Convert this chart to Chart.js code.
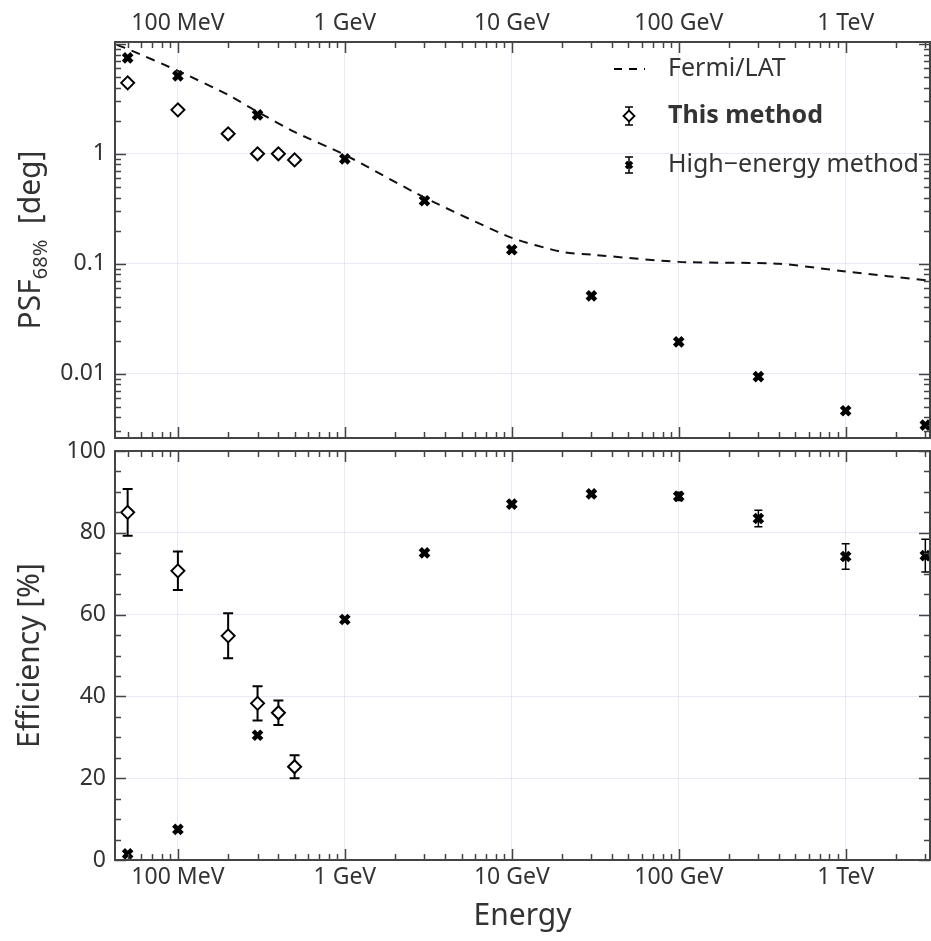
<!DOCTYPE html>
<html>
<head>
<meta charset="utf-8">
<script src="https://cdn.jsdelivr.net/npm/chart.js@4.4.1/dist/chart.umd.min.js"></script>
<style>
  html, body { margin: 0; padding: 0; background: #fff; }
  #wrap { position: relative; width: 931px; height: 941px; }
  canvas { position: absolute; left: 0; }
  #psfChart { top: 0; }
  #effChart { top: 440px; }
</style>
</head>
<body>
<div id="wrap">
  <canvas id="psfChart" width="931" height="440"></canvas>
  <canvas id="effChart" width="931" height="501"></canvas>
</div>
<script>
// energies in GeV
const xTickValues = [0.1, 1, 10, 100, 1000];
const xTickLabels = ['100 MeV', '1 GeV', '10 GeV', '100 GeV', '1 TeV'];
const psfTickValues = [0.01, 0.1, 1];
const psfTickLabels = ['0.01', '0.1', '1'];
const effTickValues = [0, 20, 40, 60, 80, 100];

// "This method"
const thisEnergy = [0.05, 0.1, 0.2, 0.3, 0.4, 0.5];
const thisPsf = [4.42, 2.51, 1.52, 1.0, 1.0, 0.88];
const thisEff = [85, 70.7, 54.8, 38.3, 36, 22.8];
const thisEffErr = [5.7, 4.7, 5.5, 4.2, 3, 2.8];

// "High-energy method"
const highEnergy = [0.05, 0.1, 0.3, 1, 3, 10, 30, 100, 300, 1000, 3000];
const highPsf = [7.46, 5.12, 2.26, 0.90, 0.374, 0.134, 0.051, 0.0195, 0.0094, 0.0046, 0.0034];
const highEff = [1.5, 7.5, 30.5, 58.8, 75.1, 87, 89.5, 88.9, 83.5, 74.2, 74.4];
const highEffErr = [0, 0, 0, 0, 0, 0, 0.5, 1, 2, 3.1, 4];

// Fermi/LAT reference curve
const fermiEnergy = [0.043, 0.05, 0.1, 0.2, 0.3, 0.5, 1, 3, 10, 20, 30, 100, 400, 1000, 3200];
const fermiPsf = [9.8, 9.0, 5.69, 3.44, 2.41, 1.58, 0.98, 0.40, 0.172, 0.128, 0.121, 0.104, 0.1, 0.085, 0.07];

Chart.defaults.font.family = '"Noto Sans", sans-serif';
Chart.defaults.color = '#333';

const gridColor = 'rgba(200, 175, 235, 0.3)';
const xMin = 0.042, xMax = 3200;

const toPts = (xs, ys) => xs.map((x, i) => ({ x: x, y: ys[i] }));

// fix an axis size and drop the label overflow padding
const fixSize = (key, size) => s => {
  s[key] = size;
  s.paddingTop = 0; s.paddingBottom = 0;
  s.paddingLeft = 0; s.paddingRight = 0;
};

// inward ticks on all four sides + frame
const framePlugin = {
  id: 'frame',
  afterDatasetsDraw(chart) {
    const { ctx, chartArea: a, scales } = chart;
    const xs = scales.x, ys = scales.y;
    ctx.save();
    ctx.strokeStyle = '#444';
    ctx.lineWidth = 1.5;
    ctx.beginPath();
    for (let k = -2; k <= 3; k++) {
      for (let m = 1; m <= 9; m++) {
        const v = m * Math.pow(10, k);
        if (v < xs.min || v > xs.max) continue;
        const px = Math.round(xs.getPixelForValue(v)) + 0.5;
        const len = m === 1 ? 11 : 6;
        ctx.moveTo(px, a.top); ctx.lineTo(px, a.top + len);
        ctx.moveTo(px, a.bottom); ctx.lineTo(px, a.bottom - len);
      }
    }
    const yTicks = [];
    if (ys.type === 'logarithmic') {
      for (let k = -3; k <= 1; k++) {
        for (let m = 1; m <= 9; m++) {
          const v = m * Math.pow(10, k);
          if (v >= ys.min && v <= ys.max) yTicks.push([v, m === 1]);
        }
      }
    } else {
      for (let v = 0; v <= 100; v += 5) yTicks.push([v, v % 20 === 0]);
    }
    yTicks.forEach(([v, major]) => {
      const py = Math.round(ys.getPixelForValue(v)) + 0.5;
      const len = major ? 11 : 6;
      ctx.moveTo(a.left, py); ctx.lineTo(a.left + len, py);
      ctx.moveTo(a.right, py); ctx.lineTo(a.right - len, py);
    });
    ctx.stroke();
    ctx.lineWidth = 2;
    ctx.strokeRect(a.left, a.top, a.right - a.left, a.bottom - a.top);
    ctx.restore();
  }
};

// vertical error bars, drawn under the markers
const errorBarPlugin = {
  id: 'errorBars',
  beforeDatasetsDraw(chart) {
    const { ctx, scales } = chart;
    ctx.save();
    ctx.strokeStyle = '#000';
    chart.data.datasets.forEach(ds => {
      if (!ds.errors) return;
      ctx.lineWidth = ds.errWidth || 2;
      const cap = ds.capSize || 5;
      ds.data.forEach((p, i) => {
        const e = ds.errors[i];
        if (!e) return;
        const px = scales.x.getPixelForValue(p.x);
        const y1 = scales.y.getPixelForValue(p.y + e);
        const y2 = scales.y.getPixelForValue(p.y - e);
        ctx.beginPath();
        ctx.moveTo(px, y1); ctx.lineTo(px, y2);
        ctx.moveTo(px - cap, y1); ctx.lineTo(px + cap, y1);
        ctx.moveTo(px - cap, y2); ctx.lineTo(px + cap, y2);
        ctx.stroke();
      });
    });
    ctx.restore();
  }
};

// legend + subscripted y title for the PSF panel
const psfDecor = {
  id: 'psfDecor',
  afterDraw(chart) {
    const { ctx, chartArea: a } = chart;
    ctx.save();
    // y title
    ctx.translate(31, (a.top + a.bottom) / 2);
    ctx.rotate(-Math.PI / 2);
    ctx.fillStyle = '#333';
    ctx.textBaseline = 'middle';
    const big = '30px "Noto Sans"', small = '20px "Noto Sans"';
    ctx.font = big;
    const w1 = ctx.measureText('PSF').width;
    ctx.font = small;
    const w2 = ctx.measureText('68%').width;
    ctx.font = big;
    const w3 = ctx.measureText('  [deg]').width;
    let x = -(w1 + w2 + w3) / 2;
    ctx.fillText('PSF', x, 0); x += w1;
    ctx.font = small;
    ctx.fillText('68%', x, 10); x += w2;
    ctx.font = big;
    ctx.fillText('  [deg]', x, 0);
    ctx.restore();

    // legend
    ctx.save();
    const sx = 629, tx = 668;
    const rows = [69, 116, 165];
    ctx.strokeStyle = '#000';
    ctx.lineWidth = 1.8;
    ctx.setLineDash([8, 7]);
    ctx.beginPath();
    ctx.moveTo(614, rows[0]); ctx.lineTo(645, rows[0]);
    ctx.stroke();
    ctx.setLineDash([]);
    ctx.lineWidth = 1.5;
    ctx.beginPath();
    ctx.moveTo(sx, rows[1] - 9); ctx.lineTo(sx, rows[1] + 9);
    ctx.moveTo(sx - 4, rows[1] - 9); ctx.lineTo(sx + 4, rows[1] - 9);
    ctx.moveTo(sx - 4, rows[1] + 9); ctx.lineTo(sx + 4, rows[1] + 9);
    ctx.moveTo(sx, rows[2] - 8); ctx.lineTo(sx, rows[2] + 8);
    ctx.moveTo(sx - 4, rows[2] - 8); ctx.lineTo(sx + 4, rows[2] - 8);
    ctx.moveTo(sx - 4, rows[2] + 8); ctx.lineTo(sx + 4, rows[2] + 8);
    ctx.stroke();
    ctx.fillStyle = '#fff';
    ctx.lineWidth = 1.8;
    ctx.beginPath();
    ctx.moveTo(sx, rows[1] - 5.5); ctx.lineTo(sx + 5.5, rows[1]);
    ctx.lineTo(sx, rows[1] + 5.5); ctx.lineTo(sx - 5.5, rows[1]);
    ctx.closePath();
    ctx.fill(); ctx.stroke();
    ctx.lineWidth = 3.5;
    ctx.beginPath();
    ctx.moveTo(sx - 3, rows[2] - 3); ctx.lineTo(sx + 3, rows[2] + 3);
    ctx.moveTo(sx + 3, rows[2] - 3); ctx.lineTo(sx - 3, rows[2] + 3);
    ctx.stroke();
    ctx.fillStyle = '#333';
    ctx.textBaseline = 'middle';
    ctx.font = '25px "Noto Sans"';
    ctx.fillText('Fermi/LAT', tx, rows[0]);
    ctx.font = 'bold 25px "Noto Sans"';
    ctx.fillText('This method', tx, rows[1]);
    ctx.font = '25px "Noto Sans"';
    ctx.fillText('High\u2212energy method', tx, rows[2]);
    ctx.restore();
  }
};

const diamondStyle = {
  pointStyle: 'rectRot',
  pointRadius: 6.5,
  pointHoverRadius: 6.5,
  pointBackgroundColor: '#fff',
  pointBorderColor: '#000',
  pointBorderWidth: 2
};
const crossStyle = {
  pointStyle: 'crossRot',
  pointRadius: 6,
  pointHoverRadius: 6,
  pointBorderColor: '#000',
  pointBorderWidth: 4.5
};

const xAxis = (position, height) => ({
  type: 'logarithmic',
  position: position,
  min: xMin,
  max: xMax,
  afterBuildTicks: s => { s.ticks = xTickValues.map(v => ({ value: v })); },
  afterFit: fixSize('height', height),
  ticks: {
    autoSkip: false,
    maxRotation: 0,
    padding: position === 'top' ? 5 : 4,
    font: { size: 23 },
    color: '#333',
    callback: (v, i) => xTickLabels[i]
  },
  grid: { color: gridColor, drawTicks: false, lineWidth: 1 },
  border: { display: false }
});

// top panel: PSF
new Chart(document.getElementById('psfChart'), {
  type: 'scatter',
  data: {
    datasets: [
      {
        type: 'line',
        label: 'Fermi/LAT',
        data: toPts(fermiEnergy, fermiPsf),
        borderColor: '#111',
        borderWidth: 2,
        borderDash: [9, 7],
        pointRadius: 0,
        fill: false,
        tension: 0.2
      },
      Object.assign({ label: 'This method', data: toPts(thisEnergy, thisPsf) }, diamondStyle),
      Object.assign({ label: 'High-energy method', data: toPts(highEnergy, highPsf) }, crossStyle)
    ]
  },
  options: {
    responsive: false,
    animation: false,
    layout: { autoPadding: false, padding: { top: 0, right: 1, bottom: 2, left: 0 } },
    scales: {
      x: xAxis('top', 42),
      y: {
        type: 'logarithmic',
        min: 0.0026,
        max: 10.4,
        afterBuildTicks: s => { s.ticks = psfTickValues.map(v => ({ value: v })); },
        afterFit: fixSize('width', 115),
        ticks: {
          padding: 9,
          font: { size: 23 },
          color: '#333',
          callback: (v, i) => psfTickLabels[i]
        },
        grid: { color: gridColor, drawTicks: false },
        border: { display: false }
      }
    },
    plugins: { legend: { display: false }, tooltip: { enabled: false } }
  },
  plugins: [framePlugin, psfDecor]
});

// bottom panel: efficiency
new Chart(document.getElementById('effChart'), {
  type: 'scatter',
  data: {
    datasets: [
      Object.assign({
        label: 'This method',
        data: toPts(thisEnergy, thisEff),
        errors: thisEffErr,
        errWidth: 2,
        capSize: 5
      }, diamondStyle),
      Object.assign({
        label: 'High-energy method',
        data: toPts(highEnergy, highEff),
        errors: highEffErr,
        errWidth: 1.5,
        capSize: 4
      }, crossStyle)
    ]
  },
  options: {
    responsive: false,
    animation: false,
    layout: { autoPadding: false, padding: { top: 11, right: 1, bottom: 0, left: 0 } },
    scales: {
      x: Object.assign(xAxis('bottom', 81), {
        title: {
          display: true,
          text: 'Energy',
          font: { size: 30 },
          color: '#333',
          padding: { top: 0, bottom: 7 }
        }
      }),
      y: {
        type: 'linear',
        min: 0,
        max: 100,
        afterBuildTicks: s => { s.ticks = effTickValues.map(v => ({ value: v })); },
        afterFit: fixSize('width', 115),
        ticks: { padding: 9, font: { size: 23 }, color: '#333' },
        title: {
          display: true,
          text: 'Efficiency [%]',
          font: { size: 30 },
          color: '#333',
          padding: { top: 12, bottom: 0 }
        },
        grid: { color: gridColor, drawTicks: false },
        border: { display: false }
      }
    },
    plugins: { legend: { display: false }, tooltip: { enabled: false } }
  },
  plugins: [framePlugin, errorBarPlugin]
});
</script>
</body>
</html>
